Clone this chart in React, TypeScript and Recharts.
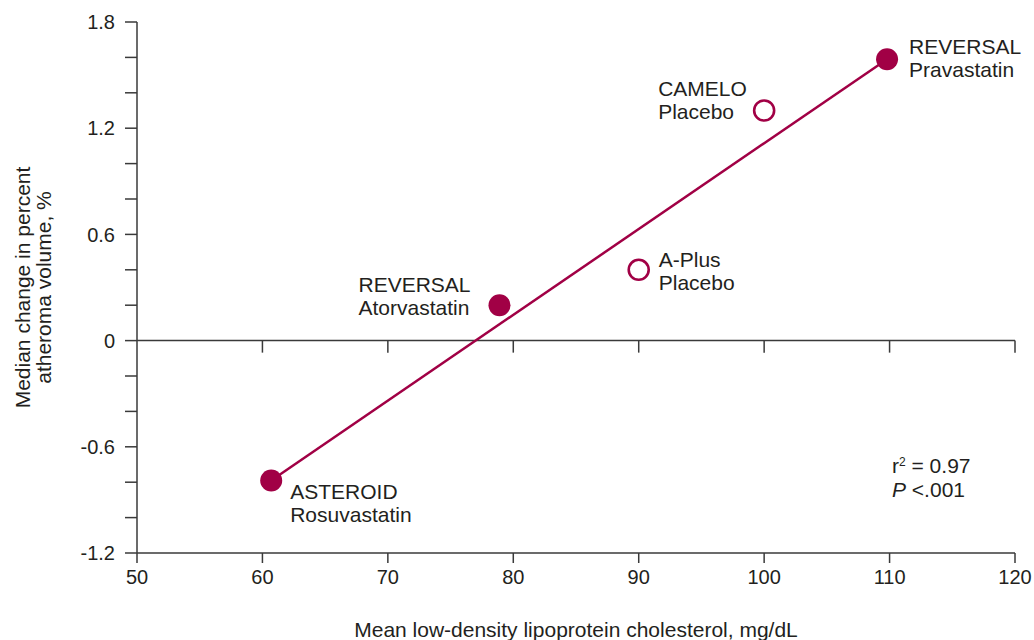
import {
  ScatterChart, Scatter, XAxis, YAxis, ReferenceLine,
} from "recharts";

const trials = ["ASTEROID", "REVERSAL", "A-Plus", "CAMELO", "REVERSAL"];
const arms = ["Rosuvastatin", "Atorvastatin", "Placebo", "Placebo", "Pravastatin"];
const ldl = [60.7, 78.9, 90, 100, 109.8];
const atheromaChange = [-0.79, 0.2, 0.4, 1.3, 1.59];
const placebo = [false, false, true, true, false];

// regression line end points
const fitLdl = [60.7, 109.8];
const fitChange = [-0.79, 1.59];

const xTicks = [50, 60, 70, 80, 90, 100, 110, 120];
const yTicks = [-1.2, -1, -0.8, -0.6, -0.4, -0.2, 0, 0.2, 0.4, 0.6, 0.8, 1, 1.2, 1.4, 1.6, 1.8];
const yLabelled = ["-1.2", "-0.6", "0", "0.6", "1.2", "1.8"];

const CRIMSON = "#A10045";
const AXIS = "#3a3a3a";
const TEXT = "#231f20";
const FONT = "'Liberation Sans', Arial, Helvetica, sans-serif";
const FS = 21;

// where each study's caption sits relative to its marker
const captionPlace = [
  { dx: 19, dy: 11.5, anchor: "start" },
  { dx: -141, dy: -21, anchor: "start" },
  { dx: 20, dy: -10, anchor: "start" },
  { dx: -106, dy: -22, anchor: "start" },
  { dx: 22, dy: -12.5, anchor: "start" },
];

const studies = trials.map((t, i) => ({
  idx: i, trial: t, arm: arms[i], ldl: ldl[i], change: atheromaChange[i], placebo: placebo[i],
}));
const filledData = studies.filter((s) => !s.placebo);
const openData = studies.filter((s) => s.placebo);
const fitData = fitLdl.map((x, i) => ({ ldl: x, change: fitChange[i] }));

const StudyMarker = (props: any) => {
  const { cx, cy, payload } = props;
  const p = captionPlace[payload.idx];
  return (
    <g>
      {payload.placebo ? (
        <circle cx={cx} cy={cy} r={10} fill="#fff" stroke={CRIMSON} strokeWidth={2.6} />
      ) : (
        <circle cx={cx} cy={cy} r={11} fill={CRIMSON} />
      )}
      <text x={cx + p.dx} y={cy + p.dy} textAnchor={p.anchor} dominantBaseline="central"
        fontSize={FS} fill={TEXT} fontFamily={FONT}>{payload.trial}</text>
      <text x={cx + p.dx} y={cy + p.dy + 23} textAnchor={p.anchor} dominantBaseline="central"
        fontSize={FS} fill={TEXT} fontFamily={FONT}>{payload.arm}</text>
    </g>
  );
};

const YTitle = ({ viewBox }: any) => {
  const cy = viewBox.y + viewBox.height / 2;
  return (
    <g fontSize={FS} fill={TEXT} fontFamily={FONT}>
      <text x={22} y={cy} textAnchor="middle" dominantBaseline="central" transform={`rotate(-90 22 ${cy})`}>Median change in percent</text>
      <text x={43} y={cy} textAnchor="middle" dominantBaseline="central" transform={`rotate(-90 43 ${cy})`}>atheroma volume, %</text>
    </g>
  );
};

const XTitle = ({ viewBox }: any) => (
  <text x={viewBox.x + viewBox.width / 2} y={629} textAnchor="middle" dominantBaseline="central"
    fontSize={FS} fill={TEXT} fontFamily={FONT}>Mean low-density lipoprotein cholesterol, mg/dL</text>
);

export default function App() {
  return (
    <div style={{ position: "absolute", left: 0, top: 0, width: 1034, height: 640, background: "#fff" }}>
      <ScatterChart width={1034} height={640} margin={{ top: 22, right: 19, bottom: 0, left: 0 }}>
        <XAxis type="number" dataKey="ldl" domain={[50, 120]} ticks={xTicks} interval={0}
          height={87} stroke={AXIS} strokeWidth={1.5} tickSize={10} tickMargin={7}
          tick={{ fontSize: 20, fill: TEXT, fontFamily: FONT }} label={{ content: <XTitle /> }} />
        <YAxis type="number" dataKey="change" domain={[-1.2, 1.8]} ticks={yTicks} interval={0}
          width={137} stroke={AXIS} strokeWidth={1.5} tickSize={12} tickMargin={10}
          tickFormatter={(v: number) => {
            const s = String(Math.round(v * 10) / 10);
            return yLabelled.includes(s) ? s : "";
          }}
          tick={{ fontSize: 20, fill: TEXT, fontFamily: FONT }} label={{ content: <YTitle /> }} />
        <ReferenceLine y={0} stroke={AXIS} strokeWidth={1.5} />
        {xTicks.slice(1).map((v) => (
          <ReferenceLine key={v} segment={[{ x: v, y: 0 }, { x: v, y: -0.068 }]} stroke={AXIS} strokeWidth={1.5} />
        ))}
        <Scatter data={fitData} line={{ stroke: CRIMSON, strokeWidth: 2.5 }} shape={() => <g />} isAnimationActive={false} />
        <Scatter data={openData} shape={<StudyMarker />} isAnimationActive={false} />
        <Scatter data={filledData} shape={<StudyMarker />} isAnimationActive={false} />
      </ScatterChart>
      <div style={{ position: "absolute", left: 892, top: 454, fontFamily: FONT, fontSize: FS, color: TEXT, lineHeight: "24px" }}>
        <div>r<sup style={{ fontSize: 12, verticalAlign: "top", lineHeight: "16px" }}>2</sup> = 0.97</div>
        <div><i>P</i> &lt;.001</div>
      </div>
    </div>
  );
}
